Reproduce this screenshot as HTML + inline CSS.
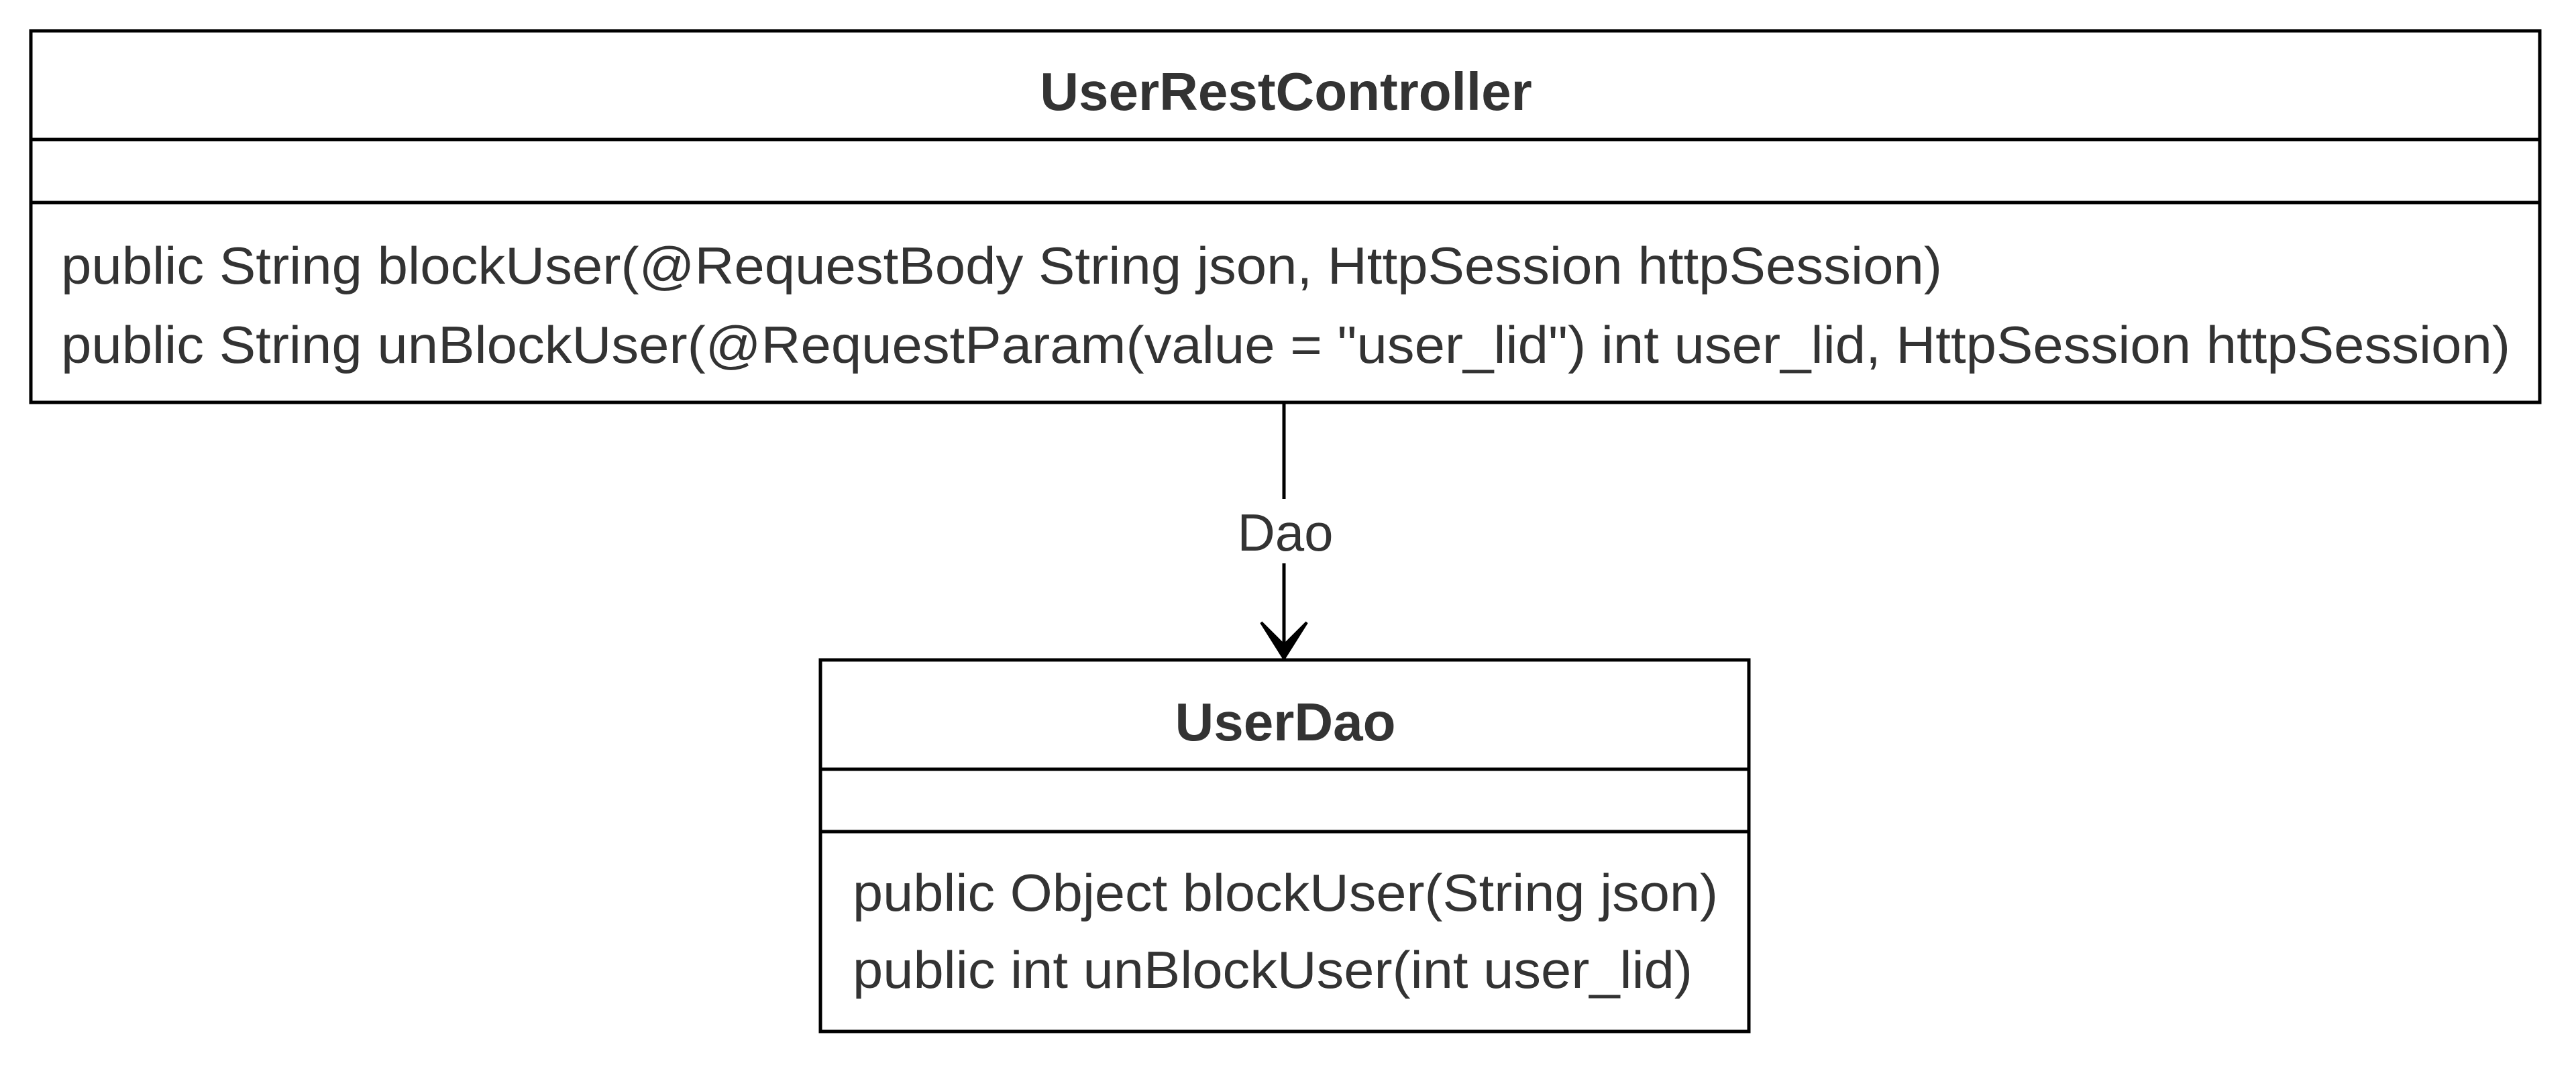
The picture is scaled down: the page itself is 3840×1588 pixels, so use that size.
<!DOCTYPE html>
<html><head><meta charset="utf-8"><style>
html,body{margin:0;padding:0;background:#fff;width:3840px;height:1588px;overflow:hidden}
svg{display:block}
text{font-family:"Liberation Sans",Arial,sans-serif;fill:#333}
</style></head><body>
<svg width="3840" height="1588" viewBox="0 0 3840 1588" xmlns="http://www.w3.org/2000/svg">
<g fill="none" stroke="#000" stroke-width="5">
<rect x="46" y="46" width="3740" height="554"/>
<line x1="46" y1="208" x2="3786" y2="208"/>
<line x1="46" y1="302" x2="3786" y2="302"/>
<rect x="1223" y="984" width="1384" height="554"/>
<line x1="1223" y1="1147" x2="2607" y2="1147"/>
<line x1="1223" y1="1240" x2="2607" y2="1240"/>
<line x1="1914" y1="600" x2="1914" y2="744"/>
<line x1="1914" y1="840" x2="1914" y2="978"/>
</g>
<path d="M1880 928 L1914 982 L1948 928 L1914 962 Z" fill="#000" stroke="#000" stroke-width="4" stroke-linejoin="miter"/>
<text x="1917" y="164" font-size="80" font-weight="bold" text-anchor="middle">UserRestController</text>
<text x="91" y="423" font-size="78" textLength="2804" lengthAdjust="spacingAndGlyphs">public String blockUser(@RequestBody String json, HttpSession httpSession)</text>
<text x="91" y="541" font-size="78" textLength="3651" lengthAdjust="spacingAndGlyphs">public String unBlockUser(@RequestParam(value = "user_lid") int user_lid, HttpSession httpSession)</text>
<text x="1916" y="821" font-size="78" text-anchor="middle">Dao</text>
<text x="1916" y="1104" font-size="80" font-weight="bold" text-anchor="middle">UserDao</text>
<text x="1271" y="1358" font-size="78" textLength="1290" lengthAdjust="spacingAndGlyphs">public Object blockUser(String json)</text>
<text x="1271" y="1473" font-size="78" textLength="1252" lengthAdjust="spacingAndGlyphs">public int unBlockUser(int user_lid)</text>
</svg>
</body></html>
